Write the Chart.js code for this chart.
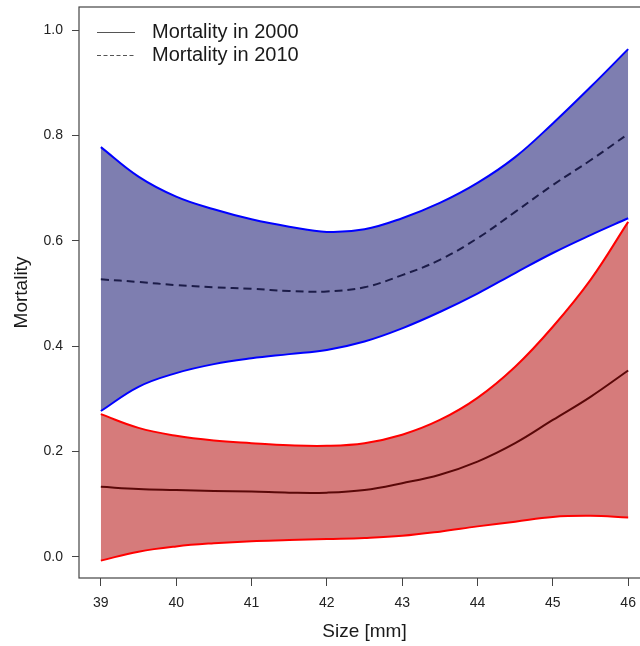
<!DOCTYPE html>
<html>
<head>
<meta charset="utf-8">
<title>Mortality by size</title>
<script src="https://cdn.jsdelivr.net/npm/chart.js@4/dist/chart.umd.min.js"></script>
<style>
    html, body { margin: 0; padding: 0; background: #fff; overflow: hidden; }
    #wrap { width: 640px; height: 646px; overflow: hidden; }
</style>
</head>
<body>
<div id="wrap">
    <canvas id="chart" width="660" height="646"></canvas>
</div>
<script>
// Data
const sizes = [39, 39.5, 40, 40.5, 41, 41.5, 42, 42.5, 43, 43.5, 44, 44.5, 45, 45.5, 46];

const upper2010 = [0.778, 0.722, 0.684, 0.660, 0.641, 0.627, 0.617, 0.622, 0.643, 0.672, 0.710, 0.759, 0.823, 0.892, 0.964];
const mean2010  = [0.527, 0.522, 0.516, 0.512, 0.509, 0.505, 0.504, 0.512, 0.535, 0.564, 0.605, 0.655, 0.706, 0.753, 0.803];
const lower2010 = [0.277, 0.323, 0.349, 0.366, 0.377, 0.385, 0.393, 0.409, 0.434, 0.465, 0.500, 0.539, 0.577, 0.611, 0.643];

const upper2000 = [0.271, 0.245, 0.230, 0.221, 0.216, 0.212, 0.211, 0.216, 0.232, 0.260, 0.302, 0.361, 0.437, 0.526, 0.636];
const mean2000  = [0.133, 0.129, 0.127, 0.125, 0.124, 0.122, 0.122, 0.127, 0.140, 0.156, 0.181, 0.216, 0.260, 0.304, 0.354];
const lower2000 = [-0.007, 0.010, 0.020, 0.026, 0.030, 0.032, 0.034, 0.036, 0.040, 0.048, 0.058, 0.067, 0.076, 0.078, 0.075];

const xTicks = [39, 40, 41, 42, 43, 44, 45, 46];
const yTicks = [0, 0.2, 0.4, 0.6, 0.8, 1.0];

const legendLabels = ['Mortality in 2000', 'Mortality in 2010'];

function pts(ys) {
    return sizes.map((x, i) => ({ x: x, y: ys[i] }));
}

const FONT = "'Liberation Sans', Arial, Helvetica, sans-serif";

// Box around the plot area, R style
const boxPlugin = {
    id: 'box',
    afterDraw(chart) {
        const { ctx, chartArea } = chart;
        ctx.save();
        ctx.strokeStyle = '#444';
        ctx.lineWidth = 1.2;
        ctx.strokeRect(chartArea.left, chartArea.top, chartArea.right - chartArea.left, chartArea.bottom - chartArea.top);
        ctx.restore();
    }
};

// Simple legend in the top-left corner
const legendPlugin = {
    id: 'rLegend',
    afterDraw(chart) {
        const ctx = chart.ctx;
        ctx.save();
        ctx.font = '20px ' + FONT;
        ctx.fillStyle = '#1a1a1a';
        ctx.textBaseline = 'middle';
        ctx.strokeStyle = '#555';
        ctx.lineWidth = 1;
        legendLabels.forEach((label, i) => {
            const y = 32 + i * 23;
            ctx.setLineDash(i === 1 ? [4, 2.5] : []);
            ctx.beginPath();
            ctx.moveTo(97, y + 0.5);
            ctx.lineTo(135, y + 0.5);
            ctx.stroke();
            ctx.fillText(label, 152, y);
        });
        ctx.restore();
    }
};

const blueFill = '#7e7eb0';
const redFill = '#d67b7b';

new Chart(document.getElementById('chart'), {
    type: 'line',
    data: {
        datasets: [
            { label: 'upper 2010', data: pts(upper2010), borderColor: '#0000ff', borderWidth: 2, backgroundColor: blueFill, fill: '+1' },
            { label: 'lower 2010', data: pts(lower2010), borderColor: '#0000ff', borderWidth: 2, fill: false },
            { label: 'Mortality in 2010', data: pts(mean2010), borderColor: '#1c1c48', borderWidth: 2, borderDash: [8, 5], fill: false },
            { label: 'upper 2000', data: pts(upper2000), borderColor: '#ff0000', borderWidth: 2, backgroundColor: redFill, fill: '+1' },
            { label: 'lower 2000', data: pts(lower2000), borderColor: '#ff0000', borderWidth: 2, fill: false },
            { label: 'Mortality in 2000', data: pts(mean2000), borderColor: '#5a0808', borderWidth: 2, fill: false }
        ]
    },
    options: {
        responsive: false,
        animation: false,
        layout: { padding: { top: 7, right: 10, left: 0, bottom: 0 } },
        elements: {
            point: { radius: 0 },
            line: { tension: 0.4 }
        },
        plugins: {
            legend: { display: false },
            tooltip: { enabled: false },
            filler: { drawTime: 'beforeDatasetsDraw' }
        },
        scales: {
            x: {
                type: 'linear',
                min: 38.71,
                max: 46.29,
                afterBuildTicks: axis => { axis.ticks = xTicks.map(v => ({ value: v })); },
                afterFit: scale => { scale.height = 68; scale.paddingLeft = 0; scale.paddingRight = 0; },
                grid: { display: true, drawOnChartArea: false, drawTicks: true, tickLength: 8, color: '#444' },
                border: { display: false },
                ticks: { font: { family: FONT, size: 14 }, color: '#222', padding: 9, maxRotation: 0 },
                title: { display: true, text: 'Size [mm]', font: { family: FONT, size: 19 }, color: '#1a1a1a', padding: { top: 0, bottom: 3 } }
            },
            y: {
                min: -0.04,
                max: 1.044,
                afterBuildTicks: axis => { axis.ticks = yTicks.map(v => ({ value: v })); },
                afterFit: scale => { scale.width = 79; scale.paddingTop = 0; scale.paddingBottom = 0; },
                grid: { display: true, drawOnChartArea: false, drawTicks: true, tickLength: 7, color: '#444' },
                border: { display: false },
                ticks: { font: { family: FONT, size: 14 }, color: '#222', padding: 9, callback: v => v.toFixed(1) },
                title: { display: true, text: 'Mortality', font: { family: FONT, size: 19 }, color: '#1a1a1a', padding: { top: 10, bottom: 0 } }
            }
        }
    },
    plugins: [boxPlugin, legendPlugin]
});
</script>
</body>
</html>
